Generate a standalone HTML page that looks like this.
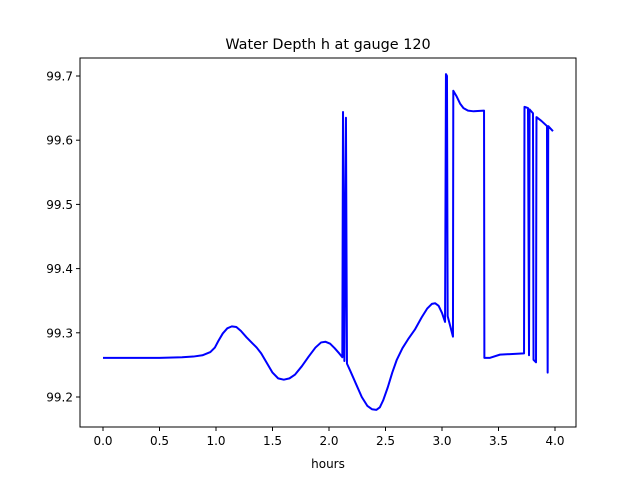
<!DOCTYPE html>
<html><head><meta charset="utf-8"><style>
html,body{margin:0;padding:0;background:#fff;}
svg text{font-family:"DejaVu Sans","Liberation Sans",sans-serif;}
</style></head><body>
<svg id="chart" width="640" height="480" xmlns="http://www.w3.org/2000/svg">
<rect width="640" height="480" fill="#fff"/>
<text x="328" y="49" font-size="14.4" text-anchor="middle">Water Depth h at gauge 120</text>
<g id="axes"></g>
<text x="328" y="468" font-size="12" text-anchor="middle">hours</text>
</svg>
<script>
const hours=[0,0.5,0.7,0.8,0.88,0.95,0.99,1.02,1.06,1.10,1.14,1.18,1.22,1.27,1.32,1.36,1.40,1.45,1.50,1.55,1.60,1.65,1.70,1.76,1.82,1.88,1.93,1.97,2.01,2.05,2.09,2.118,2.124,2.136,2.150,2.159,2.19,2.24,2.29,2.34,2.38,2.42,2.45,2.48,2.52,2.56,2.60,2.65,2.70,2.76,2.82,2.87,2.91,2.94,2.97,3.00,3.027,3.035,3.044,3.050,3.097,3.100,3.13,3.16,3.19,3.23,3.28,3.372,3.375,3.425,3.513,3.726,3.730,3.761,3.770,3.775,3.805,3.810,3.832,3.836,3.88,3.929,3.935,3.940,3.982];
const depth=[99.261,99.261,99.262,99.263,99.265,99.270,99.277,99.287,99.299,99.307,99.310,99.309,99.303,99.293,99.284,99.277,99.268,99.253,99.238,99.229,99.227,99.229,99.235,99.248,99.263,99.277,99.285,99.286,99.283,99.276,99.268,99.262,99.644,99.256,99.635,99.252,99.240,99.220,99.200,99.186,99.181,99.180,99.184,99.195,99.215,99.238,99.258,99.276,99.290,99.305,99.324,99.338,99.345,99.346,99.342,99.331,99.317,99.703,99.700,99.326,99.294,99.677,99.668,99.657,99.650,99.646,99.645,99.646,99.261,99.261,99.266,99.268,99.652,99.650,99.265,99.648,99.642,99.258,99.254,99.636,99.630,99.622,99.238,99.622,99.614];
const xTicks=[0,0.5,1,1.5,2,2.5,3,3.5,4];
const xTickLabels=["0.0","0.5","1.0","1.5","2.0","2.5","3.0","3.5","4.0"];
const yTicks=[99.2,99.3,99.4,99.5,99.6,99.7];
const yTickLabels=["99.2","99.3","99.4","99.5","99.6","99.7"];

const NS="http://www.w3.org/2000/svg";
const L=80,R=576,T=58,B=427;
const sx=t=>103+t*113;
const sy=h=>397-(h-99.2)*642;
const g=document.getElementById('axes');
function mk(tag,attrs){const e=document.createElementNS(NS,tag);for(const k in attrs)e.setAttribute(k,attrs[k]);return e;}

const line=mk('polyline',{points:hours.map((t,i)=>sx(t)+','+sy(depth[i])).join(' '),fill:'none',stroke:'#0000ff','stroke-width':2,'stroke-linejoin':'round'});


g.appendChild(line);

const frame=mk('rect',{x:L,y:T,width:R-L,height:B-T,fill:'none',stroke:'#000','stroke-width':1});


g.appendChild(frame);

xTicks.forEach((v,i)=>{
  const x=sx(v);
  const tk=mk('line',{x1:x,x2:x,y1:B,y2:B+4,stroke:'#000'});
  
  
  g.appendChild(tk);
  const tx=mk('text',{x:x,y:B+18,'font-size':12,'text-anchor':'middle'});
  tx.textContent=xTickLabels[i];
  
  
  g.appendChild(tx);
});
yTicks.forEach((v,i)=>{
  const y=sy(v);
  const tk=mk('line',{x1:L-4,x2:L,y1:y,y2:y,stroke:'#000'});
  
  
  g.appendChild(tk);
  const tx=mk('text',{x:L-7,y:y+4.5,'font-size':12,'text-anchor':'end'});
  tx.textContent=yTickLabels[i];
  
  
  g.appendChild(tx);
});
</script>
</body></html>
